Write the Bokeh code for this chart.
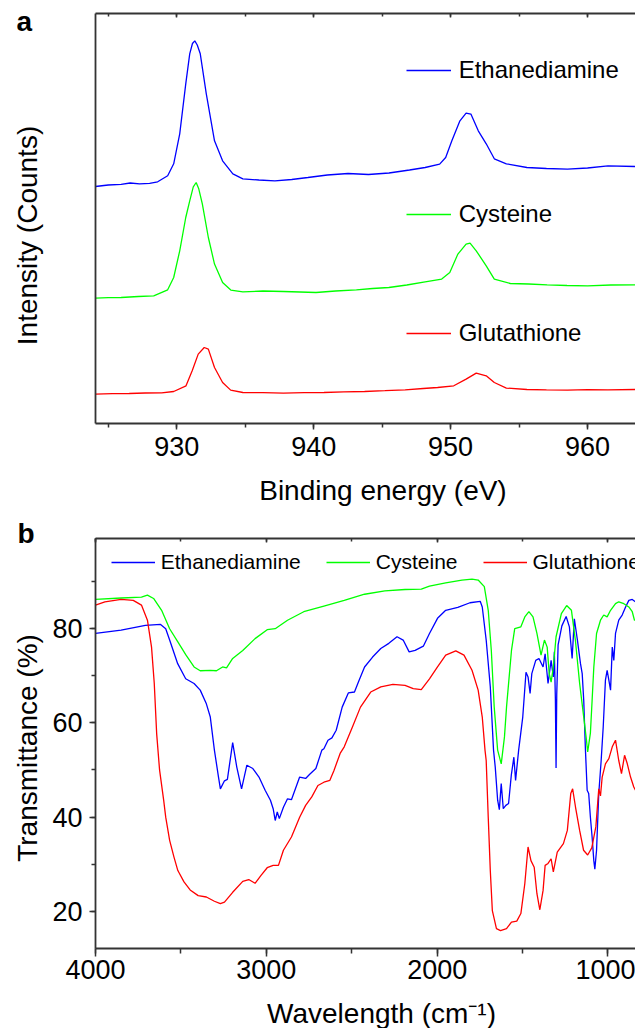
from bokeh.plotting import figure
from bokeh.models import (Range1d, LinearAxis, SingleIntervalTicker, FixedTicker,
                          Legend, LegendItem, Label)
from bokeh.layouts import column
from bokeh.embed import file_html
from bokeh.resources import INLINE

FONT = "Liberation Sans"
AXC = "#333333"

# ---------------- Panel a : XPS (Cu 2p) ----------------
xps_names = ["Ethanediamine", "Cysteine", "Glutathione"]
xps_colors = ["#0000ff", "#00ff00", "#ff0000"]

eth_energy = [924.07, 925.0, 925.94, 926.6, 927.29, 928.02, 928.61, 929.34, 929.78, 930.22,
              930.66, 930.95, 931.15, 931.32, 931.5, 931.72, 932.16, 932.76, 933.35, 934.1,
              934.83, 936.0, 937.17, 938.4, 939.58, 941.0, 942.51, 944.0, 945.5, 947.0,
              948.14, 949.2, 949.64, 950.09, 950.68, 951.13, 951.48, 952.02, 952.6, 953.19,
              954.07, 955.57, 957.0, 958.53, 960.0, 961.49, 963.5]
eth_counts = [237.0, 238.5, 239.2, 240.5, 239.7, 240.2, 241.7, 247.7, 259.7, 289.7,
              339.7, 369.7, 380.0, 382.7, 378.5, 369.7, 329.7, 282.7, 262.7, 249.7,
              244.7, 243.5, 242.7, 244.0, 246.0, 248.5, 250.0, 249.0, 250.5, 253.5,
              256.0, 259.4, 266.0, 282.7, 302.7, 310.4, 309.4, 292.7, 279.7, 264.7,
              259.7, 256.0, 255.0, 254.4, 255.5, 257.7, 257.0]

cys_energy = [924.07, 925.0, 925.94, 927.2, 928.32, 929.34, 929.78, 930.22, 930.66, 930.95,
              931.21, 931.42, 931.61, 931.87, 932.31, 932.76, 933.35, 933.95, 934.83, 936.3,
              937.79, 939.0, 940.17, 941.6, 943.12, 944.3, 945.49, 946.8, 948.14, 949.35,
              949.94, 950.53, 951.13, 951.42, 951.87, 952.6, 953.19, 954.36, 955.7, 957.05,
              958.5, 960.0, 961.7, 963.5]
cys_counts = [125.4, 125.8, 126.0, 127.0, 127.7, 133.7, 146.0, 172.7, 206.0, 222.7,
              236.7, 241.0, 234.7, 219.7, 186.0, 159.4, 141.0, 133.4, 131.7, 132.5,
              132.0, 131.5, 131.0, 132.5, 133.7, 135.0, 136.0, 138.5, 141.7, 144.4,
              151.0, 169.4, 179.4, 180.4, 172.7, 157.7, 144.4, 140.0, 139.5, 138.7,
              138.0, 137.7, 138.5, 138.7]

glu_energy = [924.07, 925.3, 926.53, 927.7, 928.9, 929.78, 930.68, 931.13, 931.57, 932.01,
              932.31, 932.76, 933.35, 933.94, 934.83, 936.3, 937.79, 939.3, 940.75, 942.2,
              943.72, 945.2, 946.68, 948.0, 949.05, 950.23, 951.13, 951.87, 952.6, 953.19,
              954.07, 955.57, 957.0, 958.53, 960.0, 961.49, 963.5]
glu_counts = [29.4, 29.8, 30.0, 30.5, 30.7, 32.0, 37.7, 52.7, 69.4, 76.0,
              74.4, 56.0, 41.0, 33.4, 31.0, 30.8, 30.4, 30.9, 31.0, 31.6,
              32.0, 32.8, 33.7, 35.0, 36.0, 37.7, 44.4, 50.4, 47.7, 41.0,
              35.4, 34.0, 33.6, 33.4, 33.8, 33.7, 34.0]

xps_ticks_interval = 10

# ---------------- Panel b : FTIR ----------------
ir_eth_wn = [4000, 3850, 3708, 3619, 3589, 3566, 3519, 3472, 3423, 3387, 3351, 3328, 3304, 3280,
             3269, 3245, 3228, 3197, 3173, 3145, 3114, 3079, 3043, 3007, 2976, 2960, 2948, 2936,
             2924, 2900, 2876, 2853, 2805, 2770, 2746, 2710, 2675, 2663, 2639, 2616, 2591, 2556,
             2520, 2484, 2461, 2425, 2378, 2330, 2283, 2235, 2199, 2164, 2129, 2081, 2045, 1998,
             1950, 1879, 1808, 1748, 1736, 1713, 1689, 1670, 1660, 1646, 1636, 1625, 1613, 1598,
             1582, 1566, 1551, 1541, 1523, 1499, 1480, 1468, 1456, 1446, 1423, 1404, 1380, 1368,
             1351, 1333, 1320, 1314, 1308, 1304, 1300, 1292, 1270, 1245, 1226, 1210, 1197, 1179,
             1161, 1151, 1142, 1132, 1122, 1113, 1103, 1093, 1083, 1077, 1067, 1054, 1040, 1028,
             1015, 1005, 995, 985, 975, 966, 956, 937, 917, 897, 878, 858, 839]
ir_eth_t = [78.9, 79.6, 80.6, 80.8, 79.9, 77.5, 72.5, 69.3, 68.3, 66.9, 64.0, 61.2, 54.2, 48.5,
            46.0, 47.7, 48.0, 55.8, 50.6, 46.0, 51.0, 50.3, 48.5, 45.7, 43.6, 41.8, 39.3, 41.1,
            39.7, 42.1, 43.9, 43.7, 48.5, 48.2, 49.1, 50.3, 54.2, 54.5, 56.3, 56.8, 58.4, 63.3,
            66.3, 66.5, 68.6, 71.8, 73.9, 75.7, 76.8, 78.2, 77.5, 75.0, 75.3, 76.2, 78.9, 82.1,
            83.8, 84.4, 85.4, 85.7, 84.5, 77.5, 67.6, 54.2, 50.6, 43.6, 41.6, 47.1, 41.8, 42.5,
            42.9, 48.9, 52.7, 47.8, 54.2, 61.2, 70.7, 69.7, 66.2, 70.4, 73.2, 73.6, 71.8, 74.6,
            68.3, 73.2, 69.7, 75.0, 65.0, 50.4, 66.0, 76.5, 80.5, 82.5, 80.3, 73.6, 82.0, 77.5,
            72.5, 70.4, 64.7, 54.2, 45.7, 45.0, 40.0, 35.8, 30.8, 29.0, 33.0, 45.0, 52.0, 59.1,
            69.0, 71.1, 69.0, 66.9, 76.0, 73.2, 78.9, 81.7, 82.8, 84.5, 85.9, 86.1, 85.6]

ir_cys_wn = [4000, 3850, 3731, 3696, 3660, 3613, 3566, 3518, 3470, 3423, 3387, 3328, 3292, 3256,
             3233, 3197, 3138, 3066, 2995, 2948, 2876, 2781, 2663, 2544, 2425, 2306, 2188, 2093,
             2045, 1950, 1855, 1796, 1760, 1724, 1701, 1683, 1666, 1646, 1625, 1606, 1594, 1565,
             1546, 1510, 1487, 1463, 1439, 1416, 1392, 1372, 1356, 1344, 1333, 1320, 1304, 1273,
             1242, 1214, 1191, 1166, 1142, 1126, 1119, 1103, 1093, 1083, 1067, 1044, 1025, 1005,
             985, 956, 937, 907, 878, 858, 845, 839]
ir_cys_t = [86.1, 86.4, 86.6, 87.0, 86.3, 83.8, 79.9, 77.1, 74.3, 71.8, 71.0, 71.1, 71.0, 71.8,
            71.6, 73.6, 75.3, 77.8, 79.7, 79.9, 81.7, 83.5, 84.7, 85.9, 87.2, 87.9, 88.2, 88.3,
            88.9, 89.6, 90.2, 90.4, 90.2, 88.8, 83.8, 75.3, 63.3, 54.2, 51.3, 57.0, 63.3, 75.3,
            79.9, 80.3, 82.4, 83.5, 82.4, 78.9, 74.3, 77.5, 76.0, 70.4, 68.6, 71.8, 78.2, 83.1,
            84.8, 83.8, 77.5, 68.3, 61.2, 56.3, 53.8, 57.8, 64.7, 71.8, 78.9, 81.7, 82.8, 82.4,
            83.8, 85.2, 85.6, 85.2, 84.5, 83.5, 81.7, 81.7]

ir_glu_wn = [4000, 3945, 3850, 3779, 3731, 3696, 3672, 3656, 3642, 3625, 3601, 3589, 3566, 3541,
             3518, 3482, 3446, 3399, 3351, 3304, 3269, 3245, 3197, 3138, 3103, 3066, 3031, 2995,
             2960, 2929, 2900, 2853, 2805, 2770, 2734, 2698, 2663, 2628, 2604, 2568, 2544, 2496,
             2449, 2389, 2330, 2259, 2188, 2140, 2093, 2045, 1998, 1950, 1891, 1843, 1796, 1760,
             1736, 1720, 1713, 1701, 1689, 1677, 1653, 1629, 1594, 1565, 1534, 1510, 1487, 1468,
             1451, 1432, 1416, 1399, 1380, 1368, 1351, 1333, 1320, 1297, 1261, 1238, 1218, 1207,
             1190, 1166, 1143, 1119, 1095, 1071, 1054, 1044, 1034, 1015, 995, 975, 956, 937, 921,
             903, 887, 868, 849, 839]
ir_glu_t = [84.9, 85.6, 86.1, 85.9, 84.9, 81.7, 76.0, 68.3, 57.7, 50.0, 43.6, 40.0, 35.1, 31.6,
            28.7, 26.3, 24.6, 23.4, 23.1, 22.2, 21.7, 22.0, 24.1, 26.4, 26.8, 26.0, 27.7, 29.3,
            29.8, 29.8, 33.0, 35.8, 40.0, 42.5, 44.3, 46.7, 47.4, 47.8, 49.9, 53.5, 54.9, 59.1,
            63.3, 66.5, 67.6, 68.1, 67.9, 67.2, 67.0, 69.3, 71.8, 74.3, 75.2, 74.3, 71.1, 66.9,
            61.2, 54.2, 52.0, 40.0, 28.7, 20.2, 16.4, 16.0, 16.4, 17.8, 18.0, 19.6, 25.9, 33.7,
            30.8, 29.4, 23.8, 20.4, 24.5, 29.8, 30.2, 31.2, 28.4, 32.6, 34.4, 37.2, 45.0, 46.0,
            42.1, 37.2, 33.0, 32.0, 33.5, 38.0, 46.0, 44.5, 48.5, 51.3, 52.4, 54.9, 56.3, 52.0, 49.2,
            53.1, 51.3, 48.5, 46.4, 45.7]


def style_common(p):
    p.xgrid.grid_line_color = None
    p.ygrid.grid_line_color = None
    p.outline_line_color = None
    p.background_fill_color = "white"
    p.border_fill_color = "white"


def style_axis(ax, tick_size="27px"):
    ax.axis_line_color = AXC
    ax.axis_line_width = 1.8
    ax.major_tick_line_color = AXC
    ax.minor_tick_line_color = AXC
    ax.major_tick_line_width = 1.5
    ax.minor_tick_line_width = 1.5
    ax.major_label_text_font = FONT
    ax.major_label_text_font_size = tick_size
    ax.major_label_text_color = "black"


def top_axis(p, ticker):
    ax = LinearAxis(ticker=ticker)
    style_axis(ax)
    ax.major_label_text_font_size = "1px"
    ax.major_label_text_color = None
    ax.major_label_standoff = 0
    ax.major_tick_in = 4
    ax.major_tick_out = 0
    ax.minor_tick_in = 3
    ax.minor_tick_out = 0
    p.add_layout(ax, "above")


def side_text(p, side, x, y, text, bold=False, angle=0.0, align="center"):
    # text placed in a side panel (outside the frame), anchored at its vertical middle
    p.add_layout(Label(x=x, y=y, text=text, text_font=FONT, text_font_size="28px",
                       text_font_style="bold" if bold else "normal", text_color="black",
                       text_baseline="middle", text_align=align, angle=angle,
                       angle_units="deg"), side)


# ---------- figure a ----------
pa = figure(width=635, height=513, x_range=Range1d(924.07, 963.5), y_range=Range1d(0, 410),
            output_backend="svg", toolbar_location=None,
            min_border_left=95, min_border_right=0, min_border_top=13, min_border_bottom=90)
style_common(pa)
xa = pa.below[0]
style_axis(xa)
xa.ticker = SingleIntervalTicker(interval=xps_ticks_interval, num_minor_ticks=2)
xa.major_tick_out = 6
xa.major_tick_in = 0
xa.minor_tick_out = 4
xa.minor_tick_in = 0
xa.major_label_standoff = 7

ya = pa.left[0]
style_axis(ya)
ya.ticker = FixedTicker(ticks=[])
ya.major_tick_out = 0
ya.minor_tick_out = 0
ya.major_label_standoff = 0

top_axis(pa, SingleIntervalTicker(interval=xps_ticks_interval, num_minor_ticks=2))

ra = []
for ex, cy, col in zip([eth_energy, cys_energy, glu_energy], [eth_counts, cys_counts, glu_counts], xps_colors):
    ra.append(pa.line(ex, cy, line_color=col, line_width=1.3))

for r, name, vy in zip(ra, xps_names, [338.0, 194.0, 74.7]):
    lg = Legend(items=[LegendItem(label=name, renderers=[r])], location=(310.7, vy),
                orientation="vertical", border_line_color=None, background_fill_alpha=0,
                padding=0, margin=0, glyph_width=45, glyph_height=30, label_height=30,
                label_standoff=8, label_text_font=FONT, label_text_font_size="24px",
                label_text_color="black")
    pa.add_layout(lg)

side_text(pa, "left", 918.30, 402.5, "a", bold=True, align="left")
side_text(pa, "left", 919.08, 188.0, "Intensity (Counts)", angle=90)
side_text(pa, "below", 945.06, -67.0, "Binding energy (eV)")

# ---------- figure b ----------
pb = figure(width=635, height=515, x_range=Range1d(4000, 839), y_range=Range1d(12.2, 99.0),
            output_backend="svg", toolbar_location=None,
            min_border_left=95, min_border_right=0, min_border_top=25, min_border_bottom=80)
style_common(pb)
xb = pb.below[0]
style_axis(xb)
xb.ticker = SingleIntervalTicker(interval=1000, num_minor_ticks=2)
xb.major_tick_out = 8
xb.major_tick_in = 0
xb.minor_tick_out = 5
xb.minor_tick_in = 0
xb.major_label_standoff = 3

yb = pb.left[0]
style_axis(yb)
yb.ticker = SingleIntervalTicker(interval=20, num_minor_ticks=2)
yb.major_tick_out = 6
yb.major_tick_in = 0
yb.minor_tick_out = 4
yb.minor_tick_in = 0
yb.major_label_standoff = 7

top_axis(pb, SingleIntervalTicker(interval=1000, num_minor_ticks=2))

rb = []
for wx, ty, col in zip([ir_eth_wn, ir_cys_wn, ir_glu_wn], [ir_eth_t, ir_cys_t, ir_glu_t], xps_colors):
    rb.append(pb.line(wx, ty, line_color=col, line_width=1.3))

lgb = Legend(items=[LegendItem(label=n, renderers=[r]) for n, r in zip(xps_names, rb)],
             location=(15.7, 371), orientation="horizontal", border_line_color=None,
             background_fill_alpha=0, padding=0, margin=0, spacing=25,
             glyph_width=44, glyph_height=30, label_height=30, label_standoff=6,
             label_text_font=FONT, label_text_font_size="21px", label_text_color="black")
pb.add_layout(lgb)

side_text(pb, "left", 4456.6, 100.06, "b", bold=True, align="left")
side_text(pb, "left", 4399.8, 54.65, "Transmittance (%)", angle=90)
side_text(pb, "below", 2325.8, -1.56, "Wavelength (cm\u207b\u00b9)")

layout = column(pa, pb)
open("out.html", "w").write(file_html(layout, INLINE))
